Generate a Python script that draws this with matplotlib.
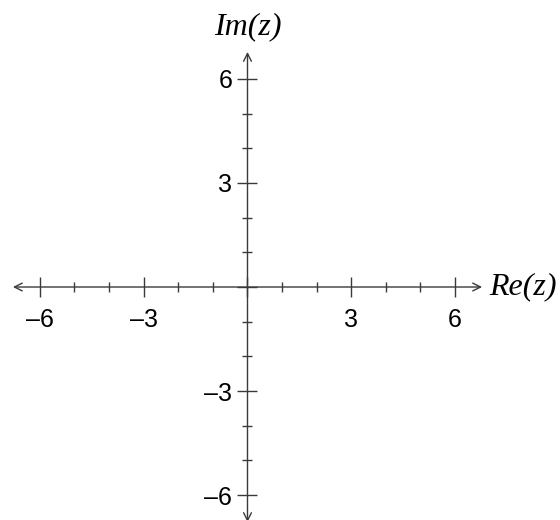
import matplotlib.pyplot as plt
from matplotlib.ticker import FixedLocator, FixedFormatter

# axis data
major_ticks  = [-6, -3, 0, 3, 6]
major_labels = ["\u20136", "\u20133", "", "3", "6"]
minor_ticks  = [-5, -4, -2, -1, 1, 2, 4, 5]
axis_extent  = 6.78

x_name = "Re(z)"
y_name = "Im(z)"

line_col = "#3a3a3a"

fig = plt.figure(figsize=(5.6, 5.2), dpi=100)
ax  = fig.add_axes([0, 0, 1, 1])
ax.set_xlim(-7.153, 9.032)
ax.set_ylim(-6.72, 8.278)

for side in ["top", "right"] :
    ax.spines[side].set_visible(False)
for side in ["left", "bottom"] :
    ax.spines[side].set_position("zero")
    ax.spines[side].set_visible(False)

# axes with open arrow heads
arrow = dict(arrowstyle="<->", lw=1.0, color=line_col,
             shrinkA=0, shrinkB=0, mutation_scale=14)
ax.annotate("", xy=(axis_extent, 0), xytext=(-axis_extent, 0), arrowprops=arrow)
ax.annotate("", xy=(0, axis_extent), xytext=(0, -axis_extent), arrowprops=arrow)

for axis in [ax.xaxis, ax.yaxis] :
    axis.set_major_locator(FixedLocator(major_ticks))
    axis.set_major_formatter(FixedFormatter(major_labels))
    axis.set_minor_locator(FixedLocator(minor_ticks))

ax.tick_params(which="major", direction="inout", length=14, width=1.0,
               color=line_col, labelsize=18, labelcolor="black")
ax.tick_params(which="minor", direction="inout", length=7, width=1.0,
               color=line_col)
ax.tick_params(axis="x", which="major", pad=8)
ax.tick_params(axis="y", which="major", pad=4)
for lab in ax.get_xticklabels() + ax.get_yticklabels() :
    lab.set_family("Liberation Sans")

ax.text(axis_extent + 0.2, 0, x_name, family="Liberation Serif", style="italic",
        fontsize=23, ha="left", va="center")
ax.text(0, axis_extent + 0.32, y_name, family="Liberation Serif", style="italic",
        fontsize=23, ha="center", va="bottom")

ax.set_facecolor("white")
fig.savefig("out.png", dpi=100, facecolor="white")
